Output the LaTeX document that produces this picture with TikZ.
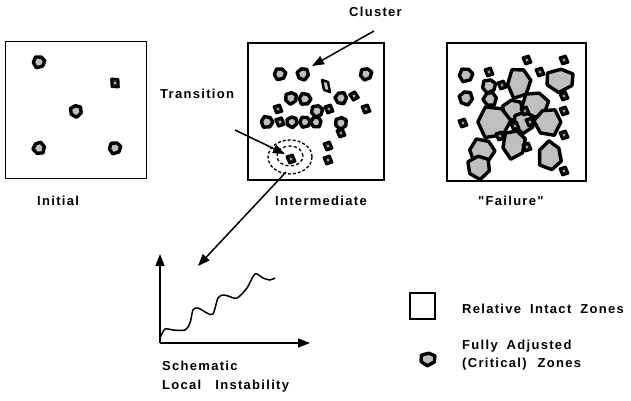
\documentclass[tikz,border=0pt]{standalone}
\usepackage{fontspec}
\newfontfamily\lbl[LetterSpace=10]{Liberation Sans}
\usetikzlibrary{arrows.meta,shapes.geometric}
\tikzset{
  zone/.pic={\draw[line width=3.4pt, fill=gray!50, line join=round]
     (0:1) -- (60:0.92) -- (125:1.05) -- (185:0.95) -- (245:1.02) -- (305:0.9) -- cycle;},
  zonesm/.pic={\draw[line width=2.4pt, fill=black!85, line join=round]
     (-1,-0.55) -- (0.35,-1) -- (1,0.55) -- (-0.35,1) -- cycle;
     \fill[gray!40] (0,0) circle (0.28);},
  txt/.style={font=\lbl\bfseries\fontsize{13}{15}\selectfont, inner sep=0pt, anchor=base west},
  arr/.style={line width=1.5pt, -{Triangle[length=12pt,width=9pt]}},
  frm/.style={draw, line width=1.8pt, inner sep=0pt},
}
\newcommand{\gap}{\hspace{9pt}}
\begin{document}
\begin{tikzpicture}[x=1pt,y=-1pt]
\useasboundingbox (0,0) rectangle (631,401);
% frames
\node[frm, minimum width=141pt, minimum height=137pt] (ini) at (76,110) {};
\node[frm, minimum width=136pt, minimum height=137pt] (mid) at (316,111.5) {};
\node[frm, minimum width=139pt, minimum height=138pt] (fail) at (516.5,112) {};
% initial blobs
\pic[scale=6,rotate=10] at (39,62) {zone};
\pic[scale=4.8,rotate=-20] at (115,83) {zonesm};
\pic[scale=6,rotate=40] at (76,111) {zone};
\pic[scale=6,rotate=75] at (39,148) {zone};
\pic[scale=6,rotate=15] at (115,148) {zone};
% intermediate blobs
\pic[scale=6,rotate=10] at (280,74) {zone};
\pic[scale=6,rotate=50] at (303,74) {zone};
\pic[scale=6,rotate=20] at (366,74) {zone};
\draw[line width=2.4pt, fill=gray!40, line join=round] (322,80) -- (328,82) -- (330,92) -- (324,90) -- cycle;
\pic[scale=6,rotate=30] at (291,98) {zone};
\pic[scale=6,rotate=0] at (305,99) {zone};
\pic[scale=6,rotate=60] at (341,98) {zone};
\pic[scale=4.3,rotate=10] at (354,96) {zonesm};
\pic[scale=4.3,rotate=0] at (278,109) {zonesm};
\pic[scale=6,rotate=20] at (317,111) {zone};
\pic[scale=4.3,rotate=0] at (329,109) {zonesm};
\pic[scale=4.3,rotate=0] at (366,109) {zonesm};
\pic[scale=6,rotate=0] at (267,122) {zone};
\pic[scale=4.6,rotate=0] at (280,122) {zonesm};
\pic[scale=5.5,rotate=40] at (292,122) {zone};
\pic[scale=5.5,rotate=10] at (305,122) {zone};
\pic[scale=5.5,rotate=70] at (316,122) {zone};
\pic[scale=6,rotate=30] at (341,123) {zone};
\pic[scale=4.3,rotate=0] at (341,133) {zonesm};
\pic[scale=4.3,rotate=0] at (328,146) {zonesm};
\pic[scale=4.3,rotate=0] at (328,160) {zonesm};
\pic[scale=4.3,rotate=0] at (291,159) {zonesm};
\node[draw, dash pattern=on 3pt off 2pt, line width=1.3pt, ellipse, minimum width=44pt, minimum height=34pt, inner sep=0pt] (trans) at (290,157) {};
\draw[dash pattern=on 3pt off 2.5pt, line width=1.3pt] (290,156) ellipse (13pt and 10pt);
% failure blobs
\pic[scale=4.3] at (527,60) {zonesm};
\pic[scale=4.3] at (564,60) {zonesm};
\pic[scale=4.3] at (489,72) {zonesm};
\pic[scale=4.3] at (540,72) {zonesm};
\pic[scale=4.3] at (502,85) {zonesm};
\pic[scale=4.3] at (564,96) {zonesm};
\pic[scale=4.3] at (564,111) {zonesm};
\pic[scale=4.3] at (463,123) {zonesm};
\pic[scale=4.3] at (564,135) {zonesm};
\pic[scale=4.3] at (564,171) {zonesm};
\pic[scale=7,rotate=10] at (466,75) {zone};
\pic[scale=7,rotate=50] at (466,98) {zone};
\pic[scale=7,rotate=20] at (489,86) {zone};
\pic[scale=7,rotate=70] at (490,99) {zone};
\pic[xscale=12,yscale=16,rotate=10] at (519,83) {zone};
\pic[xscale=15,yscale=12,rotate=30] at (560,80) {zone};
\pic[scale=14,rotate=15] at (535,105) {zone};
\pic[scale=11,rotate=45] at (513,110) {zone};
\pic[scale=17,rotate=5] at (494,122) {zone};
\pic[scale=11,rotate=30] at (524,122) {zone};
\pic[scale=14,rotate=60] at (548,122) {zone};
\pic[scale=4.3] at (525,111) {zonesm};
\pic[scale=4.3] at (515,126) {zonesm};
\pic[scale=4.3] at (530,122) {zonesm};
\pic[scale=4.3] at (500,136) {zonesm};
\pic[xscale=12,yscale=15,rotate=20] at (514,144) {zone};
\pic[scale=4.3] at (527,147) {zonesm};
\pic[scale=13,rotate=0] at (482,151) {zone};
\pic[scale=12,rotate=40] at (479,167) {zone};
\pic[xscale=12,yscale=15,rotate=-20] at (550,156) {zone};
% labels
\node[txt] (linit) at (37,205) {Initial};
\node[txt] (lmid) at (275,205) {Intermediate};
\node[txt] (lfail) at (478,205) {"Failure"};
\node[txt] (lclus) at (349,17) {Cluster};
\node[txt] (ltrans) at (160,99) {Transition};
% arrows
\coordinate (clusTip) at (312,66);
\coordinate (clusTail) at (374,31);
\draw[arr] (clusTail) -- (clusTip);
\coordinate (transTail) at (235,130);
\coordinate (transTip) at (285,154);
\draw[arr] (transTail) -- (transTip);
% graph
\coordinate (O) at (160,343);
\coordinate (ytop) at (160,254);
\coordinate (xend) at (310,343);
\draw[arr] (O) -- (ytop);
\draw[arr] (O) -- (xend);
\draw[line width=1.5pt] plot[smooth, tension=0.5] coordinates {(160.7,336.7) (165,329) (173,330) (185,330) (190,323) (193,310) (198,308) (207,313) (213,314) (218,298) (223,295) (228,296) (237,298) (247,288) (255,274) (263,278) (270,280) (275,278)};
\coordinate (graphTip) at (198,266);
\coordinate (lt) at (286,172);
\draw[arr] (lt) -- (graphTip);
\node[txt] (sch) at (162,370) {Schematic};
\node[txt] (loc) at (162,389) {Local\hspace{14pt}Instability};
% legend
\node[draw, line width=1.3pt, minimum width=25pt, minimum height=26pt, inner sep=0pt] (legsq) at (422.5,306) {};
\node[txt] (leg1) at (462,313) {Relative\gap Intact\gap Zones};
\pic[xscale=8,yscale=6.5,rotate=30] at (428,359) {zone};
\node[txt] (leg2) at (462,349) {Fully\gap Adjusted};
\node[txt] (leg3) at (462,367) {(Critical)\hspace{11pt}Zones};
\end{tikzpicture}
\end{document}
